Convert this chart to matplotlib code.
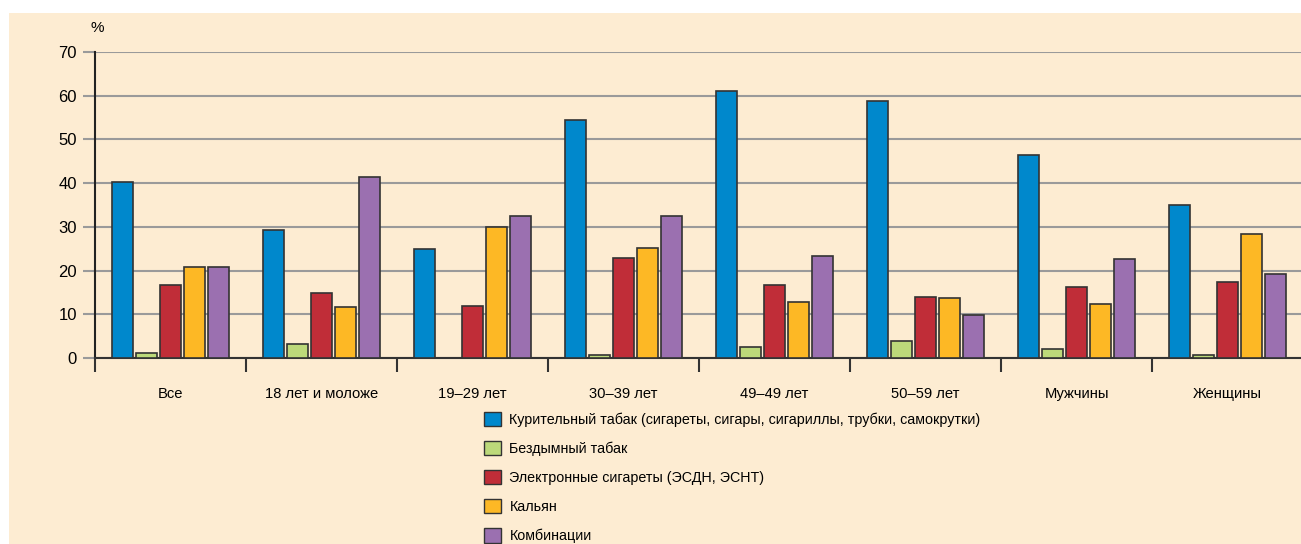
import matplotlib.pyplot as plt
import matplotlib.patches as mpatches
import numpy as np

plt.rcParams['font.family'] = ['Liberation Sans Narrow', 'Liberation Sans', 'DejaVu Sans']

categories = ['Все', '18 лет и моложе', '19–29 лет', '30–39 лет', '49–49 лет',
              '50–59 лет', 'Мужчины', 'Женщины']
series_names = ['Курительный табак (сигареты, сигары, сигариллы, трубки, самокрутки)',
                'Бездымный табак',
                'Электронные сигареты (ЭСДН, ЭСНТ)',
                'Кальян',
                'Комбинации']
smoking = [40.3, 29.3, 24.9, 54.4, 61.1, 58.8, 46.4, 35.0]
smokeless = [1.1, 3.2, 0.0, 0.7, 2.5, 3.9, 2.1, 0.7]
ecig = [16.7, 14.9, 11.9, 22.9, 16.7, 14.0, 16.2, 17.4]
hookah = [20.8, 11.7, 30.0, 25.2, 12.8, 13.7, 12.4, 28.4]
combo = [20.8, 41.4, 32.5, 32.5, 23.3, 9.8, 22.6, 19.2]
colors = ['#0088cc', '#bcd97a', '#c02d38', '#fdb825', '#9b70b0']

series = [smoking, smokeless, ecig, hookah, combo]

W, H = 1301, 544
fig = plt.figure(figsize=(W / 100, H / 100), dpi=100, facecolor='white')
bg = '#fdecd2'
fig.patches.append(mpatches.Rectangle((9 / W, 0), 1 - 9 / W, (H - 13) / H,
                                      transform=fig.transFigure, facecolor=bg,
                                      edgecolor='none', zorder=-10))

ax = fig.add_axes([95 / W, 186 / H, (1303 - 95) / W, 306 / H])
ax.set_facecolor('none')

x = np.arange(len(categories))
step = 0.159
width = 0.139
for i, (vals, c) in enumerate(zip(series, colors)):
    v = np.array(vals)
    ax.bar(x + (i - 2) * step, v, width, color=c, edgecolor='#333333',
           linewidth=1.2, zorder=3, label=series_names[i])

ax.set_xlim(-0.5, len(categories) - 0.5)
ax.set_ylim(0, 70)
ax.set_yticks(range(0, 71, 10))
ax.yaxis.grid(True, color='#9a9a9a', linewidth=1.5, zorder=1)
ax.set_axisbelow(True)
ax.tick_params(axis='y', length=9, width=1.5, color='#9a9a9a', labelsize=12, pad=4)
ax.set_xticks(x)
ax.set_xticklabels(categories, fontsize=10.6)
ax.tick_params(axis='x', which='major', length=0, pad=21)
ax.set_xticks(np.arange(-0.5, len(categories), 1), minor=True)
ax.tick_params(axis='x', which='minor', length=10, width=1.5, color='#333333')
for s in ['top', 'right']:
    ax.spines[s].set_visible(False)
ax.spines['left'].set_linewidth(1.5)
ax.spines['bottom'].set_linewidth(1.5)
ax.spines['left'].set_color('#222222')
ax.spines['bottom'].set_color('#333333')

fig.text(91 / W, 1 - 28 / H, '%', fontsize=11, va='center', ha='left')

handles = [mpatches.Patch(facecolor=c, edgecolor='#333333', linewidth=1.0) for c in colors]
fig.legend(handles, series_names, loc='upper left', bbox_to_anchor=(478 / W, 1 - 406 / H),
           frameon=False, fontsize=10.3, handlelength=1.2, handleheight=1.2,
           handletextpad=0.6, labelspacing=0.97, borderaxespad=0)

fig.savefig('out.png', dpi=100, facecolor='white')
